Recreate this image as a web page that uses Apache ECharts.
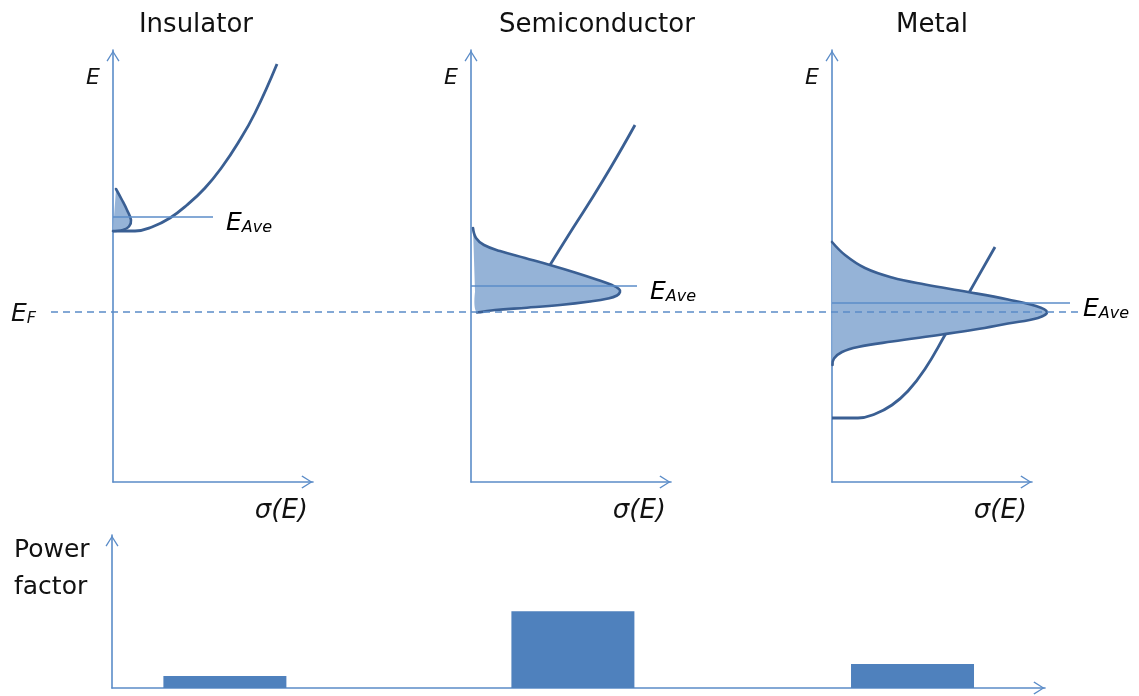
<!DOCTYPE html>
<html><head><meta charset="utf-8">
<script src="https://cdn.jsdelivr.net/npm/echarts@6/dist/echarts.min.js"></script>
<style>html,body{margin:0;padding:0;background:#fff}#c{width:1139px;height:696px}</style>
</head><body><div id="c"></div>
<script>
// ---- data (energy relative to E_F, arbitrary units; sigma(E) arbitrary units) ----
const categories = ['Insulator', 'Semiconductor', 'Metal'];
const E_F = 0;

const insulatorBand = [[0,0.81],[0.22,0.81],[0.39,0.85],[0.57,0.94],[0.74,1.07],[0.92,1.24],[1.09,1.45],[1.25,1.69],[1.42,1.99],[1.64,2.48]];
const insulatorDOS = [[0.03,1.23],[0.09,1.12],[0.14,1.02],[0.18,0.92],[0.16,0.855],[0.10,0.82],[0.02,0.81],[0,0.81]];
const insulatorFillClose = [];
const insulatorEAve = [[0,0.95],[1.0,0.95]];

const semiBand = [[0.79,0.47],[0.97,0.76],[1.18,1.09],[1.40,1.45],[1.64,1.87]];
const semiDOS = [[0.02,0.84],[0.05,0.74],[0.13,0.67],[0.29,0.61],[0.54,0.54],[0.79,0.47],[1.04,0.395],[1.27,0.32],[1.41,0.27],[1.48,0.23],[1.49,0.20],[1.46,0.165],[1.37,0.135],[1.19,0.105],[0.89,0.07],[0.56,0.043],[0.24,0.02],[0.06,-0.005]];
const semiFillClose = [[0.04,0.20]];
const semiEAve = [[0,0.26],[1.66,0.26]];

const metalBand = [[0,-1.06],[0.26,-1.06],[0.43,-1.02],[0.60,-0.93],[0.76,-0.79],[0.93,-0.57],[1.13,-0.23],[1.38,0.21],[1.63,0.65]];
const metalDOS = [[0,0.70],[0.13,0.57],[0.33,0.44],[0.60,0.345],[0.93,0.275],[1.36,0.20],[1.76,0.125],[2.04,0.06],[2.15,0.00],[2.06,-0.06],[1.76,-0.115],[1.43,-0.175],[1.10,-0.225],[0.60,-0.295],[0.26,-0.35],[0.10,-0.40],[0.02,-0.465],[0.005,-0.53]];
const metalFillClose = [];
const metalEAve = [[0,0.09],[2.38,0.09]];

const powerFactorPos = [12.1, 49.4, 85.8];
const powerFactor = [1.0, 6.4, 2.0];

// ---- styling ----
const AXIS = '#5b8cc8';
const CURVE = '#3a5f93';
const FILL = '#95b3d7';
const FONT = 'DejaVu Sans';
const ARROW = 'path://M0,11 L7,0 L14,11 L12.8,12 L7,2.4 L1.2,12 Z';

function axisLine(){ return {show:true, onZero:false, lineStyle:{color:AXIS, width:1.6}, symbol:['none', ARROW], symbolSize:[13,12], symbolOffset:[0,-6]}; }
function subRich(big, small, drop){
  return {
    e:{fontFamily:FONT, fontStyle:'italic', fontSize:big, color:'#111', verticalAlign:'bottom', lineHeight:30},
    s:{fontFamily:FONT, fontStyle:'italic', fontSize:small, color:'#111', verticalAlign:'bottom', lineHeight:30, padding:[drop,0,0,0]}
  };
}

const panelLeft = [113, 471, 832];
const grids = panelLeft.map(l => ({left:l, top:50, width:200, height:432}));
grids.push({left:48, top:50, width:1030, height:432}); // E_F overlay
grids.push({left:112, top:535, width:933, height:153}); // power factor

const xAxes = [], yAxes = [];
for (let i=0;i<3;i++){
  xAxes.push({gridIndex:i, type:'value', min:0, max:2, name:'σ(E)', nameLocation:'end', nameGap:-5,
    nameTextStyle:{fontFamily:FONT, fontStyle:'italic', fontSize:26, color:'#111', align:'right', verticalAlign:'top', padding:[16,0,0,0]},
    axisLine:axisLine(), axisTick:{show:false}, axisLabel:{show:false}, splitLine:{show:false}});
  yAxes.push({gridIndex:i, type:'value', min:-1.7, max:2.62, name:'E', nameLocation:'end', nameGap:-28,
    nameTextStyle:{fontFamily:FONT, fontStyle:'italic', fontSize:22, color:'#111', align:'right', verticalAlign:'middle', padding:[0,13,0,0]},
    axisLine:axisLine(), axisTick:{show:false}, axisLabel:{show:false}, splitLine:{show:false}});
}
xAxes.push({gridIndex:3, type:'value', min:0, max:1, show:false});
yAxes.push({gridIndex:3, type:'value', min:-1.7, max:2.62, show:false});
xAxes.push({gridIndex:4, type:'value', min:0, max:100, axisLine:axisLine(), axisTick:{show:false}, axisLabel:{show:false}, splitLine:{show:false}});
yAxes.push({gridIndex:4, type:'value', min:0, max:12.75, axisLine:axisLine(), axisTick:{show:false}, axisLabel:{show:false}, splitLine:{show:false}});

function bandSeries(i, data){
  return {type:'line', xAxisIndex:i, yAxisIndex:i, data:data, smooth:0.45, symbol:'none', clip:false, z:2,
    lineStyle:{color:CURVE, width:2.8}, silent:true};
}
function dosSeries(i, pts, closePts){
  return {type:'custom', xAxisIndex:i, yAxisIndex:i, data:pts, clip:false, z:3, silent:true,
    renderItem:function(params, api){
      if (params.dataIndex !== 0) return null;
      const p = pts.map(d => api.coord(d));
      const pf = pts.concat(closePts).map(d => api.coord(d));
      return {type:'group', children:[
        {type:'polyline', shape:{points:pf, smooth:0.4}, style:{fill:FILL, stroke:null}},
        {type:'polyline', shape:{points:p, smooth:0.4}, style:{fill:null, stroke:CURVE, lineWidth:2.6, lineJoin:'round', lineCap:'round'}}
      ]};
    }};
}
function eaveSeries(i, data){
  return {type:'custom', xAxisIndex:i, yAxisIndex:i, data:data, clip:false, z:4, silent:true,
    renderItem:function(params, api){
      if (params.dataIndex !== 0) return null;
      const a = api.coord(data[0]), b = api.coord(data[data.length-1]);
      return {type:'group', children:[
        {type:'line', shape:{x1:a[0], y1:a[1], x2:b[0], y2:b[1]}, style:{stroke:AXIS, lineWidth:1.6}},
        {type:'text', x:b[0]+13, y:b[1]+4, style:{text:'{e|E}{s|Ave}', rich:subRich(25,16,11), align:'left', verticalAlign:'middle'}}
      ]};
    }};
}

const series = [];
const bands = [insulatorBand, semiBand, metalBand];
const doses = [insulatorDOS, semiDOS, metalDOS];
const closes = [insulatorFillClose, semiFillClose, metalFillClose];
const eaves = [insulatorEAve, semiEAve, metalEAve];
for (let i=0;i<3;i++){ series.push(bandSeries(i,bands[i])); series.push(dosSeries(i,doses[i],closes[i])); series.push(eaveSeries(i,eaves[i])); }
series.push({type:'line', xAxisIndex:3, yAxisIndex:3, data:[[1,E_F],[0,E_F]], symbol:'none', z:5, silent:true,
  lineStyle:{color:AXIS, width:1.6, type:[7,5]},
  endLabel:{show:true, formatter:'{e|E}{s|F}', rich:subRich(25,16,12), align:'right', distance:-12}});
series.push({type:'bar', xAxisIndex:4, yAxisIndex:4, name:'Power factor', barWidth:123,
  data:powerFactorPos.map((x,k)=>({name:categories[k], value:[x, powerFactor[k]]})),
  itemStyle:{color:'#4f81bd'}, silent:true, z:1});

const titleCenters = [196, 597, 932];
const titles = categories.map((c,k)=>({text:c, left:titleCenters[k], top:12, padding:0, textAlign:'center',
  textStyle:{fontFamily:FONT, fontWeight:'normal', fontSize:26, color:'#111'}}));
titles.push({text:'Power\nfactor', left:14, top:532, padding:0, textStyle:{fontFamily:FONT, fontWeight:'normal', fontSize:25, lineHeight:37, color:'#111'}});

const chart = echarts.init(document.getElementById('c'));
chart.setOption({animation:false, backgroundColor:'#fff', title:titles, grid:grids, xAxis:xAxes, yAxis:yAxes, series:series});
</script></body></html>
